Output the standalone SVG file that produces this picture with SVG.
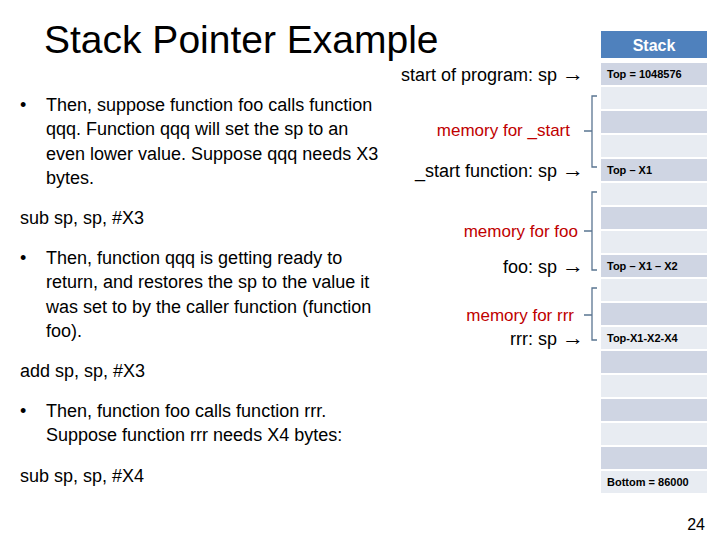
<svg xmlns="http://www.w3.org/2000/svg" width="720" height="540" viewBox="0 0 720 540">
<style>
text{font-family:"Liberation Sans",Arial,sans-serif;fill:#000}
.b{font-size:18px}
.r{font-size:17px;fill:#c00000}
.c{font-size:11px;font-weight:bold}
.d{fill:#cfd5e3}.l{fill:#e8ecf2}
.br{fill:none;stroke:#5a7591;stroke-width:1.3}
.a{font-size:22px}
</style>
<rect width="720" height="540" fill="#fff"/>
<text x="44" y="53" font-size="39">Stack Pointer Example</text>
<g id="left" class="b">
<text x="20" y="111">•</text>
<text x="46" y="111">Then, suppose function foo calls function</text>
<text x="46" y="135">qqq. Function qqq will set the sp to an</text>
<text x="46" y="160">even lower value. Suppose qqq needs X3</text>
<text x="46" y="184">bytes.</text>
<text x="20" y="224">sub sp, sp, #X3</text>
<text x="20" y="264">•</text>
<text x="46" y="264">Then, function qqq is getting ready to</text>
<text x="46" y="288">return, and restores the sp to the value it</text>
<text x="46" y="313">was set to by the caller function (function</text>
<text x="46" y="337">foo).</text>
<text x="20" y="377">add sp, sp, #X3</text>
<text x="20" y="417">•</text>
<text x="46" y="417">Then, function foo calls function rrr.</text>
<text x="46" y="441">Suppose function rrr needs X4 bytes:</text>
<text x="20" y="482">sub sp, sp, #X4</text>
</g>
<g id="labels" class="b" text-anchor="end">
<text x="584" y="81">start of program: sp <tspan class="a">→</tspan></text>
<text x="570" y="136" class="r">memory for _start</text>
<text x="584" y="177">_start function:  sp <tspan class="a">→</tspan></text>
<text x="578" y="237" class="r">memory for foo</text>
<text x="584" y="273">foo:  sp <tspan class="a">→</tspan></text>
<text x="574" y="321" class="r">memory for rrr</text>
<text x="584" y="345">rrr:  sp <tspan class="a">→</tspan></text>
</g>
<g id="stack">
<rect x="601" y="31" width="106" height="27" fill="#4f81bd"/>
<text x="654" y="51" text-anchor="middle" font-size="16" font-weight="bold" style="fill:#fff">Stack</text>
<rect class="d" x="601" y="63" width="106" height="22"/>
<rect class="l" x="601" y="87" width="106" height="22"/>
<rect class="d" x="601" y="111" width="106" height="22"/>
<rect class="l" x="601" y="135" width="106" height="22"/>
<rect class="d" x="601" y="159" width="106" height="22"/>
<rect class="l" x="601" y="183" width="106" height="22"/>
<rect class="d" x="601" y="207" width="106" height="22"/>
<rect class="l" x="601" y="231" width="106" height="22"/>
<rect class="d" x="601" y="255" width="106" height="22"/>
<rect class="l" x="601" y="279" width="106" height="22"/>
<rect class="d" x="601" y="303" width="106" height="22"/>
<rect class="l" x="601" y="327" width="106" height="22"/>
<rect class="d" x="601" y="351" width="106" height="22"/>
<rect class="l" x="601" y="375" width="106" height="22"/>
<rect class="d" x="601" y="399" width="106" height="22"/>
<rect class="l" x="601" y="423" width="106" height="22"/>
<rect class="d" x="601" y="447" width="106" height="22"/>
<rect class="l" x="601" y="471" width="106" height="22"/>
<text class="c" x="607" y="78">Top = 1048576</text>
<text class="c" x="607" y="174">Top – X1</text>
<text class="c" x="607" y="270">Top – X1 – X2</text>
<text class="c" x="607" y="342">Top-X1-X2-X4</text>
<text class="c" x="607" y="486">Bottom = 86000</text>
</g>
<g id="connectors">
<path class="br" d="M597 96H592V167H597M592 131H584"/>
<path class="br" d="M597 192H592V270H597M592 231H584"/>
<path class="br" d="M597 288H592V340H597M592 315H584"/>
</g>
<text x="705" y="530" font-size="16" text-anchor="end">24</text>
</svg>
